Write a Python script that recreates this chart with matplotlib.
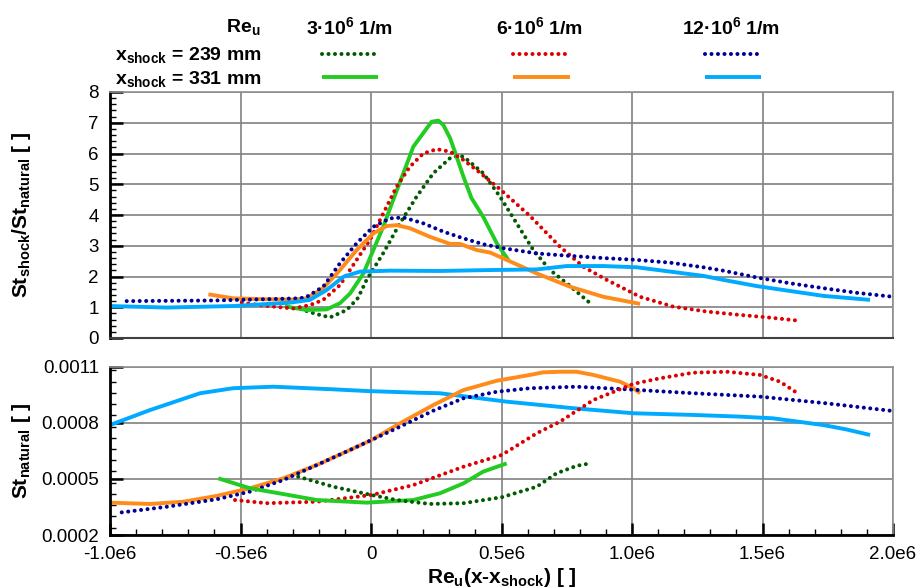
import numpy as np
import matplotlib.pyplot as plt
from matplotlib.ticker import MultipleLocator

plt.rcParams['font.family'] = ['Liberation Sans', 'DejaVu Sans']
plt.rcParams['mathtext.fontset'] = 'custom'
plt.rcParams['mathtext.rm'] = 'Liberation Sans:bold'
plt.rcParams['mathtext.bf'] = 'Liberation Sans:bold'
plt.rcParams['mathtext.default'] = 'bf'

# x axis values are Re_u*(x - x_shock), given in units of 1e6
SCALE = 1e6

# --- ratio St_shock / St_natural ---
x_g239 = [-0.27, -0.259, -0.21, -0.157, -0.093, -0.05, -0.017, 0.047, 0.111, 0.175, 0.239,
          0.303, 0.33, 0.354, 0.43, 0.494, 0.558, 0.622, 0.686, 0.75, 0.833]
r_g239 = [0.95, 0.91, 0.78, 0.67, 0.91, 1.3, 1.89, 2.76, 3.73, 4.6, 5.36,
          5.85, 5.92, 5.9, 5.36, 4.6, 3.73, 2.86, 2.21, 1.78, 1.18]

x_g331 = [-0.33, -0.31, -0.246, -0.17, -0.119, -0.08, -0.029, 0.009, 0.047, 0.085, 0.124, 0.162,
          0.2, 0.232, 0.258, 0.277, 0.303, 0.328, 0.354, 0.385, 0.43, 0.482, 0.526]
r_g331 = [1.05, 1.0, 0.91, 0.93, 1.13, 1.45, 2.10, 2.86, 3.62, 4.49, 5.36, 6.22,
          6.66, 7.03, 7.07, 6.93, 6.5, 5.9, 5.25, 4.55, 3.94, 3.08, 2.54]

x_r239 = [-0.495, -0.425, -0.349, -0.298, -0.234, -0.183, -0.119, -0.055, -0.004, 0.047, 0.098,
          0.149, 0.2, 0.252, 0.303, 0.354, 0.405, 0.494, 0.609, 0.724, 0.813, 0.903, 1.031,
          1.158, 1.286, 1.414, 1.52, 1.631]
r_r239 = [1.15, 1.07, 1.0, 0.96, 1.07, 1.24, 1.72, 2.54, 3.19, 4.05, 4.92,
          5.57, 6.0, 6.14, 6.06, 5.79, 5.46, 4.84, 3.97, 2.97, 2.32, 1.89, 1.34,
          1.02, 0.86, 0.75, 0.67, 0.57]

x_o331 = [-0.623, -0.528, -0.4, -0.3, -0.246, -0.183, -0.119, -0.055, 0.009, 0.06, 0.098,
          0.149, 0.226, 0.303, 0.341, 0.405, 0.456, 0.507, 0.635, 0.762, 0.89, 1.031]
r_o331 = [1.42, 1.29, 1.26, 1.25, 1.29, 1.62, 2.21, 2.86, 3.40, 3.64, 3.67,
          3.57, 3.29, 3.06, 3.06, 2.86, 2.78, 2.59, 2.10, 1.67, 1.34, 1.11]

x_b239 = [-0.936, -0.6, -0.272, -0.246, -0.183, -0.119, -0.055, 0.009, 0.073, 0.124, 0.2,
          0.277, 0.354, 0.43, 0.507, 0.635, 0.762, 0.89, 1.018, 1.146, 1.273, 1.35,
          1.477, 1.605, 1.733, 1.861, 2.0]
r_b239 = [1.2, 1.22, 1.29, 1.34, 1.67, 2.43, 3.08, 3.62, 3.89, 3.92, 3.73,
          3.46, 3.24, 3.05, 2.92, 2.75, 2.67, 2.60, 2.54, 2.45, 2.30, 2.19,
          1.97, 1.78, 1.62, 1.47, 1.34]

x_c331 = [-1.0, -0.783, -0.528, -0.31, -0.234, -0.17, -0.106, -0.042, 0.073, 0.264, 0.456,
          0.635, 0.75, 0.89, 1.018, 1.146, 1.273, 1.35, 1.477, 1.605, 1.733, 1.912]
r_c331 = [1.04, 0.99, 1.04, 1.15, 1.24, 1.56, 1.99, 2.16, 2.19, 2.18, 2.21,
          2.23, 2.34, 2.34, 2.30, 2.16, 2.02, 1.89, 1.69, 1.53, 1.37, 1.24]

# --- St_natural (units of 1e-4) ---
xn_g239 = [-0.279, -0.144, 0.002, 0.098, 0.226, 0.354, 0.501, 0.635, 0.711, 0.788, 0.839]
sn_g239 = [5.12, 4.58, 4.14, 3.87, 3.66, 3.70, 4.02, 4.58, 5.30, 5.70, 5.83]

xn_g331 = [-0.585, -0.464, -0.336, -0.208, -0.017, 0.162, 0.264, 0.354, 0.43, 0.52]
sn_g331 = [5.03, 4.50, 4.19, 3.87, 3.73, 3.87, 4.23, 4.76, 5.39, 5.83]

xn_r239 = [-0.521, -0.4, -0.208, 0.002, 0.162, 0.354, 0.501, 0.635, 0.724, 0.852, 1.005,
           1.107, 1.235, 1.363, 1.49, 1.567, 1.631]
sn_r239 = [3.87, 3.70, 3.78, 4.14, 4.67, 5.65, 6.28, 7.44, 8.06, 9.22, 10.08,
           10.38, 10.68, 10.73, 10.56, 10.20, 9.61]

xn_o331 = [-1.0, -0.847, -0.719, -0.591, -0.464, -0.336, -0.208, -0.08, 0.002, 0.111, 0.239,
           0.354, 0.482, 0.609, 0.66, 0.724, 0.788, 0.852, 0.954, 1.005, 1.031]
sn_o331 = [3.73, 3.66, 3.78, 4.09, 4.50, 5.03, 5.74, 6.55, 7.08, 7.97, 8.95,
           9.75, 10.25, 10.56, 10.70, 10.73, 10.73, 10.56, 10.20, 9.85, 9.58]

xn_b239 = [-0.955, -0.783, -0.591, -0.464, -0.336, -0.208, -0.08, 0.002, 0.111, 0.239, 0.354,
           0.482, 0.609, 0.788, 0.98, 1.235, 1.49, 1.746, 2.0]
sn_b239 = [3.21, 3.51, 3.91, 4.32, 4.94, 5.74, 6.55, 7.08, 7.79, 8.65, 9.31,
           9.66, 9.85, 9.93, 9.79, 9.58, 9.40, 9.04, 8.63]

xn_c331 = [-1.0, -0.847, -0.655, -0.528, -0.374, -0.144, -0.017, 0.175, 0.264, 0.52, 0.775,
           1.005, 1.235, 1.414, 1.54, 1.733, 1.82, 1.912]
sn_c331 = [7.88, 8.68, 9.58, 9.85, 9.93, 9.79, 9.70, 9.61, 9.58, 9.13, 8.78,
           8.51, 8.42, 8.33, 8.24, 7.88, 7.65, 7.35]

re_labels = ['3·10$^6$ 1/m', '6·10$^6$ 1/m', '12·10$^6$ 1/m']
row_labels = ['x$_{shock}$ = 239 mm', 'x$_{shock}$ = 331 mm']
xticks = [-1.0, -0.5, 0.0, 0.5, 1.0, 1.5, 2.0]
xticklabels = ['-1.0e6', '-0.5e6', '0', '0.5e6', '1.0e6', '1.5e6', '2.0e6']
yticks_nat = [0.0002, 0.0005, 0.0008, 0.0011]
yticklabels_nat = ['0.0002', '0.0005', '0.0008', '0.0011']

c_dgreen = '#005a00'
c_green = '#22cc22'
c_red = '#dd0000'
c_orange = '#ff8c1a'
c_dblue = '#000099'
c_lblue = '#00aaff'

dot = dict(lw=2.9, linestyle=(0, (0.01, 1.6)), dash_capstyle='round')
solid = dict(lw=2.8, solid_capstyle='butt')

fig = plt.figure(figsize=(9.17, 5.88), dpi=100)
ax1 = fig.add_axes([110 / 917, 1 - 338 / 588, 783 / 917, 246 / 588])
ax2 = fig.add_axes([110 / 917, 1 - 535 / 588, 783 / 917, 168.3 / 588])

x = lambda a: np.array(a) * SCALE

h = []
h.append(ax1.plot(x(x_g239), r_g239, color=c_dgreen, **dot)[0])
h.append(ax1.plot(x(x_g331), r_g331, color=c_green, **solid)[0])
h.append(ax1.plot(x(x_r239), r_r239, color=c_red, **dot)[0])
h.append(ax1.plot(x(x_o331), r_o331, color=c_orange, **solid)[0])
h.append(ax1.plot(x(x_b239), r_b239, color=c_dblue, **dot)[0])
h.append(ax1.plot(x(x_c331), r_c331, color=c_lblue, **solid)[0])

ax2.plot(x(xn_c331), np.array(sn_c331) * 1e-4, color=c_lblue, **solid)
ax2.plot(x(xn_o331), np.array(sn_o331) * 1e-4, color=c_orange, **solid)
ax2.plot(x(xn_b239), np.array(sn_b239) * 1e-4, color=c_dblue, **dot)
ax2.plot(x(xn_r239), np.array(sn_r239) * 1e-4, color=c_red, **dot)
ax2.plot(x(xn_g331), np.array(sn_g331) * 1e-4, color=c_green, **solid)
ax2.plot(x(xn_g239), np.array(sn_g239) * 1e-4, color=c_dgreen, **dot)

for ax in (ax1, ax2):
    ax.set_xlim(-1.0e6, 2.0e6)
    ax.set_xticks(x(xticks))
    ax.xaxis.set_minor_locator(MultipleLocator(0.1e6))
    ax.grid(True, which='major', color='#808080', lw=1.2)
    ax.set_axisbelow(True)
    for s in ('top', 'right'):
        ax.spines[s].set_color('#909090')
        ax.spines[s].set_linewidth(1.2)
    ax.spines['left'].set_linewidth(2)
    ax.spines['bottom'].set_linewidth(2)
    ax.tick_params(which='major', direction='in', length=9, width=1.8, labelsize=13.5, pad=8)
    ax.tick_params(which='minor', direction='in', length=4.5, width=1)
    ax.tick_params(top=False, right=False)

ax1.set_ylim(0, 8)
ax1.set_yticks(range(9))
ax1.yaxis.set_minor_locator(MultipleLocator(0.2))
ax1.tick_params(axis='x', which='both', bottom=False, labelbottom=False)
ax1.spines['bottom'].set_color('#404040')
ax1.spines['bottom'].set_linewidth(1.5)

ax2.set_ylim(0.0002, 0.0011)
ax2.set_yticks(yticks_nat)
ax2.set_yticklabels(yticklabels_nat)
ax2.yaxis.set_minor_locator(MultipleLocator(0.00006))
ax2.set_xticklabels(xticklabels)

ax1.set_ylabel('St$_{shock}$/St$_{natural}$ [ ]', fontsize=15, fontweight='bold', va='center')
ax2.set_ylabel('St$_{natural}$ [ ]', fontsize=15, fontweight='bold', va='center')
ax1.yaxis.set_label_coords(-0.113, 0.5)
ax2.yaxis.set_label_coords(-0.113, 0.5)
ax2.set_xlabel('Re$_u$(x-x$_{shock}$) [ ]', fontsize=15, fontweight='bold', labelpad=2)

# legend: rows = shock position, columns = unit Reynolds number
leg = fig.legend(h, [''] * 6, ncol=3, frameon=False, loc='upper left',
                 bbox_to_anchor=(322 / 917, 1 - 47 / 588), borderpad=0, borderaxespad=0,
                 handlelength=3.0, handletextpad=0, columnspacing=7.2,
                 labelspacing=0.35, fontsize=13.5)

lx = [350, 540, 731]
for xp, lab in zip(lx, re_labels):
    fig.text(xp / 917, 1 - 27 / 588, lab, ha='center', va='center', fontsize=14, fontweight='bold')
fig.text(261 / 917, 1 - 27 / 588, 'Re$_u$', ha='right', va='center', fontsize=14, fontweight='bold')
fig.text(262 / 917, 1 - 55 / 588, row_labels[0], ha='right', va='center', fontsize=14, fontweight='bold')
fig.text(262 / 917, 1 - 79 / 588, row_labels[1], ha='right', va='center', fontsize=14, fontweight='bold')

fig.savefig('out.png', dpi=100)
